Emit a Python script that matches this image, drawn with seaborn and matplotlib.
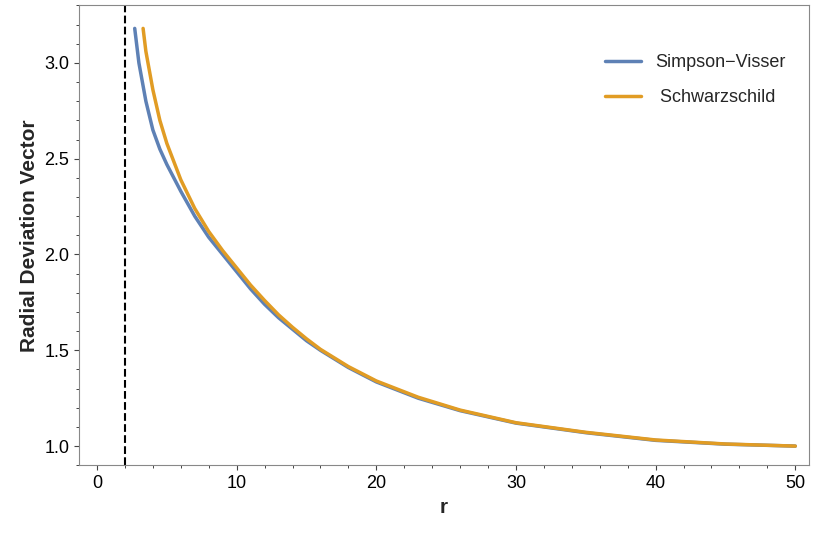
import matplotlib
matplotlib.use("Agg")
import matplotlib.pyplot as plt
import seaborn as sns
import pandas as pd

r_sv = [2.7,3,3.5,4,4.5,5,6,7,8,9,10,11,12,13,14,15,16,18,20,23,26,30,35,40,45,50]
v_sv = [3.18,3.0,2.80,2.65,2.55,2.47,2.33,2.2,2.09,2.0,1.91,1.82,1.74,1.67,1.61,1.55,1.50,1.41,1.335,1.25,1.185,1.12,1.07,1.03,1.01,1.0]
r_sch = [3.3,3.5,4,4.5,5,6,7,8,9,10,11,12,13,14,15,16,18,20,23,26,30,35,40,45,50]
v_sch = [3.18,3.06,2.86,2.70,2.58,2.39,2.24,2.12,2.02,1.93,1.84,1.76,1.685,1.62,1.56,1.505,1.415,1.34,1.255,1.188,1.122,1.072,1.032,1.011,1.0]
horizon = 2.0

df = pd.concat([
    pd.DataFrame({"r": r_sv, "v": v_sv, "s": "Simpson\u2212Visser"}),
    pd.DataFrame({"r": r_sch, "v": v_sch, "s": " Schwarzschild"}),
])
sns.set_style("ticks")
plt.rcParams['font.family'] = ['Liberation Sans', 'DejaVu Sans']
fig, ax = plt.subplots(figsize=(8.3, 5.41), dpi=100)
sns.lineplot(data=df, x="r", y="v", hue="s", palette=["#5e81b5", "#e19c24"], lw=2.5, ax=ax, sort=False)
ax.axvline(horizon, color="black", ls="--", lw=1.5)
ax.set_xlim(-1.3, 51)
ax.set_ylim(0.9, 3.3)
ax.set_xticks([0,10,20,30,40,50])
ax.set_yticks([1.0,1.5,2.0,2.5,3.0])
ax.set_yticklabels(["1.0","1.5","2.0","2.5","3.0"])
ax.minorticks_on()
ax.tick_params(labelsize=13, colors="#444444", labelcolor="black")
ax.set_xlabel("r", fontsize=15, fontweight="bold")
ax.set_ylabel("Radial Deviation Vector", fontsize=15, fontweight="bold")
for s in ax.spines.values():
    s.set_visible(True); s.set_color("#888888")
ax.legend(title=None, frameon=False, fontsize=13, loc="upper right", bbox_to_anchor=(0.99, 0.93), handlelength=2, labelspacing=1.0)
plt.subplots_adjust(left=0.095, right=0.975, top=0.99, bottom=0.14)
fig.savefig("out.png")
